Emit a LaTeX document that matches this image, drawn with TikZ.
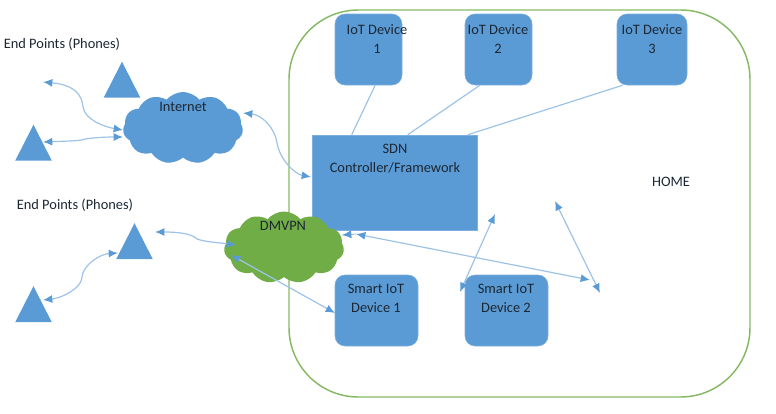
\documentclass[tikz,border=0pt]{standalone}
\usepackage{fontspec}
\setmainfont{Carlito}
\usetikzlibrary{shapes.geometric,shapes.symbols,arrows.meta}
\definecolor{boxblue}{HTML}{5B9BD5}
\definecolor{linkblue}{HTML}{9DC3E6}
\definecolor{homegreen}{HTML}{70AD47}
\definecolor{inktext}{HTML}{1C2733}
\tikzset{
  devbox/.style={fill=boxblue,draw=boxblue!80!white,line width=0.4pt,rounded corners=7.5pt,inner sep=0pt},
  ctrlbox/.style={fill=boxblue,draw=boxblue!80!white,line width=0.4pt,inner sep=0pt},
  phone/.style={isosceles triangle,isosceles triangle stretches,shape border rotate=90,fill=boxblue,inner sep=0pt,minimum width=27.5pt,minimum height=27pt},
  puff/.style={cloud,cloud puffs=11,cloud puff arc=100,aspect=1.7,inner sep=0pt,minimum width=90pt,minimum height=54pt},
  lbl/.style={font=\fontsize{10.8}{14.25}\selectfont,text=inktext,align=center,inner sep=0pt},
  link/.style={draw=linkblue,line width=0.9pt,{Latex[length=7pt,width=6pt,color=boxblue]}-{Latex[length=7pt,width=6pt,color=boxblue]}},
  wire/.style={draw=linkblue,line width=0.9pt},
}
\begin{document}
\begin{tikzpicture}[x=0.75pt,y=-0.75pt]
\useasboundingbox (0,0) rectangle (776,414);
\node[draw=homegreen!85!white,line width=1.1pt,rounded corners=52pt,minimum width=345.75pt,minimum height=290.25pt,inner sep=0pt] (home) at (519.5,203.5) {};
% devices
\node[devbox,minimum width=50.25pt,minimum height=53.25pt] (d1) at (368.5,49.5) {};
\node[devbox,minimum width=50.25pt,minimum height=53.25pt] (d2) at (498.5,49.5) {};
\node[devbox,minimum width=52.5pt,minimum height=53.25pt] (d3) at (652,49.5) {};
\node[ctrlbox,minimum width=123.75pt,minimum height=71.25pt] (sdn) at (394.5,182.5) {};
\node[devbox,minimum width=62.25pt,minimum height=53.25pt] (s1) at (376.5,310.5) {};
\node[devbox,minimum width=62.25pt,minimum height=53.25pt] (s2) at (506.5,310.5) {};
% clouds
\node[puff,fill=boxblue] (inet) at (183,128) {};
\node[puff,fill=homegreen] (vpn) at (284,247.5) {};
% phones
\node[phone] (t1) at (122,86.5) {};
\node[phone] (t2) at (33.5,149.5) {};
\node[phone] (t3) at (134.5,248) {};
\node[phone] (t4) at (33.5,311) {};
% free ends
\coordinate (f1) at (43,82);
\coordinate (f2) at (155,232);
\coordinate (g1) at (495,214);
\coordinate (h1) at (555,201);
\coordinate (h2) at (600,293);
\coordinate (i1) at (356,234);
\coordinate (i0) at (342,235);
\coordinate (i2) at (590,280);
\coordinate (g2) at (460,292);
\coordinate (in1) at (123,130);
\coordinate (in2) at (123,137);
\coordinate (in3) at (243,113);
\coordinate (v1) at (236,245);
\coordinate (v2) at (231,255);
\coordinate (t2r) at (43,142);
\coordinate (t3l) at (118,253);
\coordinate (t4r) at (43,300);
\coordinate (sdnl) at (311,177);
\coordinate (s1l) at (335,313);
% wires
\draw[wire] ([xshift=5pt]d1.south) -- ([xshift=30pt]sdn.north west);
\draw[wire] ([xshift=-14pt]d2.south) -- ([xshift=72pt]sdn.north west);
\draw[wire] ([xshift=-22pt]d3.south) -- ([xshift=117pt]sdn.north west);
% links
\draw[link] (f1) .. controls (75,85) and (82,95) .. (83,107) .. controls (85,120) and (105,127) .. (in1);
\draw[link] (t2r) .. controls (70,141) and (80,141) .. (85,139) .. controls (100,137) and (110,137) .. (in2);
\draw[link] (in3) .. controls (262,115) and (275,128) .. (277,143) .. controls (280,160) and (295,174) .. (sdnl);
\draw[link] (f2) .. controls (180,232) and (192,234) .. (197,239) .. controls (205,242) and (222,243) .. (v1);
\draw[link] (t3l) .. controls (100,254) and (83,265) .. (82,277) .. controls (82,288) and (62,298) .. (t4r);
\draw[link] (v2) -- (s1l);
\draw[link] (g2) -- (g1);
\draw[link] (h1) -- (h2);
\draw[link] (i1) -- (i2);
\draw[draw=boxblue,line width=0.5pt,-{Latex[length=7pt,width=6pt,color=boxblue]}] (i1) -- (i0);
% labels
\node[lbl] (lp1) at (62,44.5) {End Points (Phones)};
\node[lbl] (lp2) at (75,205) {End Points (Phones)};
\node[lbl] (lin) at (183,107) {Internet};
\node[lbl] (lvp) at (283,226) {DMVPN};
\node[lbl] (ld1) at (377,39) {IoT Device\\1};
\node[lbl] (ld2) at (498,39) {IoT Device\\2};
\node[lbl] (ld3) at (652,39) {IoT Device\\3};
\node[lbl] (lsd) at (395,159) {SDN\\Controller/Framework};
\node[lbl] (ls1) at (376,298) {Smart IoT\\Device 1};
\node[lbl] (ls2) at (506,298) {Smart IoT\\Device 2};
\node[lbl] (lhm) at (671,182) {HOME};
\end{tikzpicture}
\end{document}
